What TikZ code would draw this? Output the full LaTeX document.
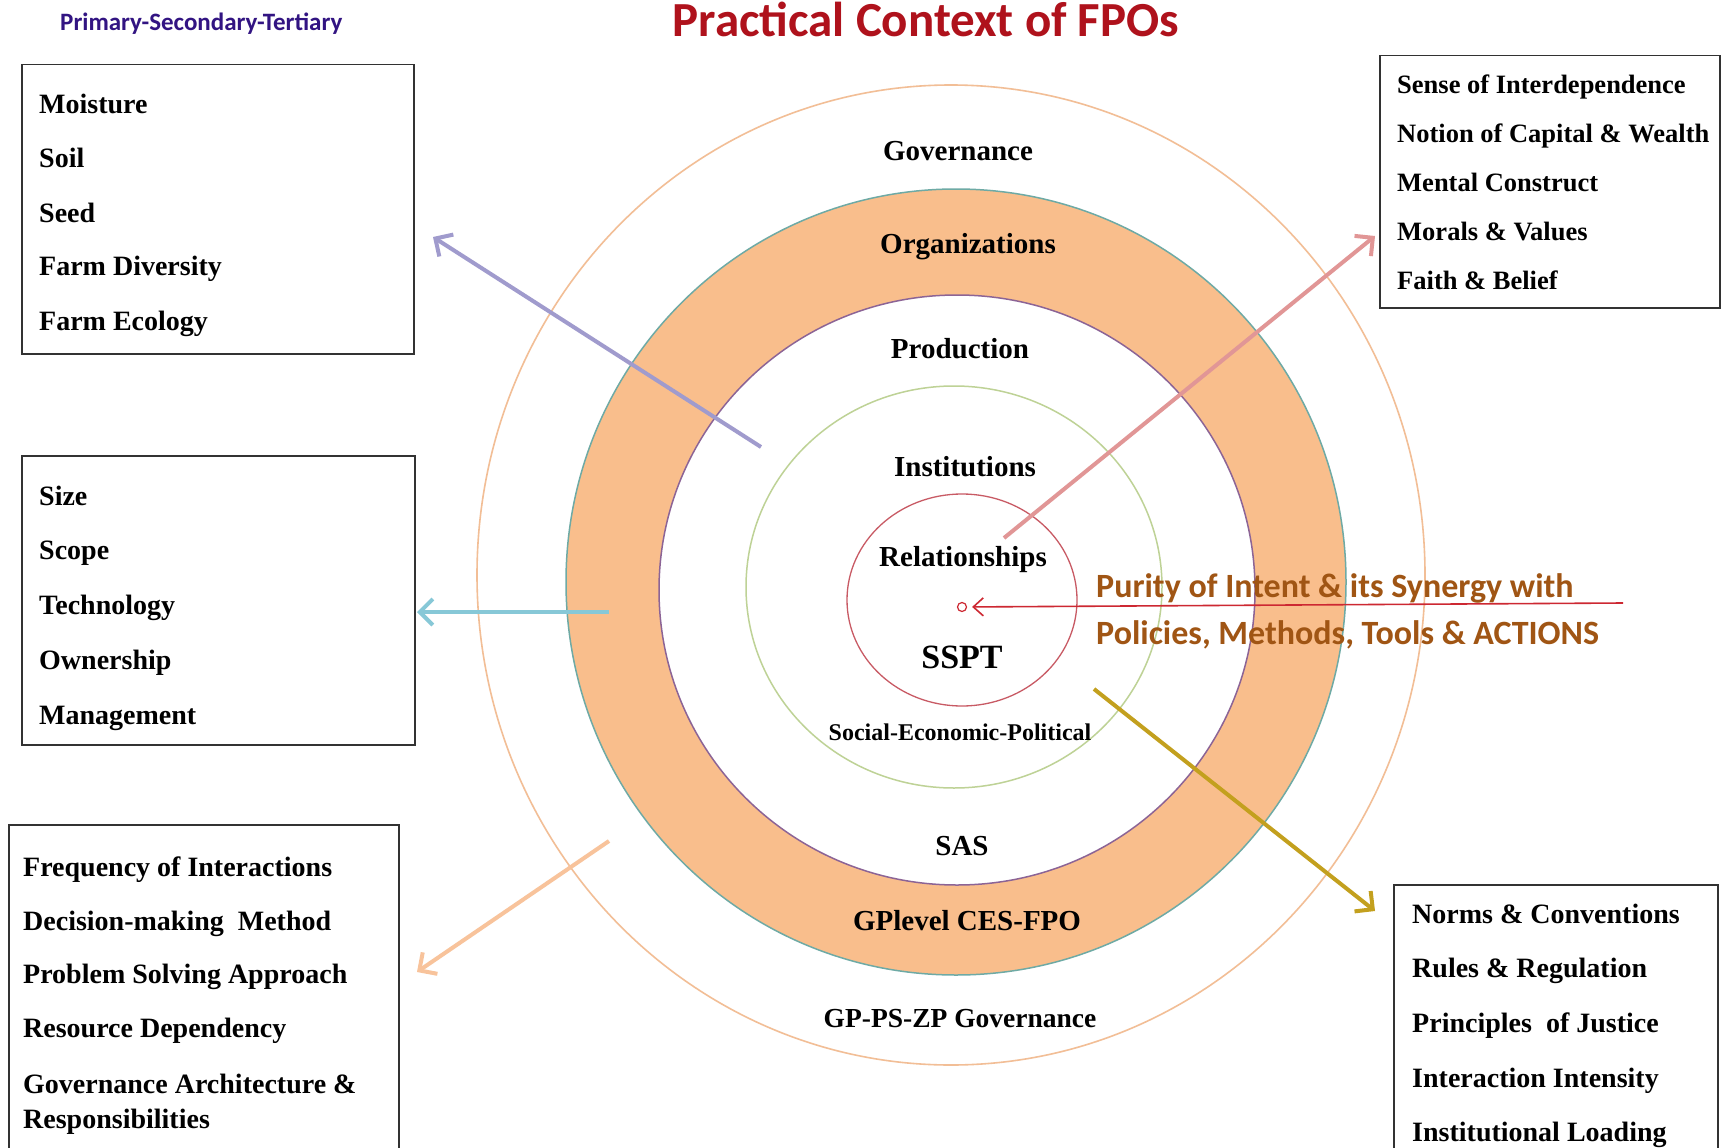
\documentclass[tikz,border=0pt]{standalone}
\usepackage{fontspec}
\setmainfont{Liberation Serif}
\newfontfamily\calibri{Carlito}
\usetikzlibrary{arrows.meta}
\definecolor{outerc}{RGB}{242,190,150}
\definecolor{ringfill}{RGB}{249,190,140}
\definecolor{ringout}{RGB}{110,170,165}
\definecolor{ringin}{RGB}{140,100,150}
\definecolor{instc}{RGB}{190,210,150}
\definecolor{relc}{RGB}{200,90,100}
\definecolor{purparr}{RGB}{160,155,205}
\definecolor{tealarr}{RGB}{135,200,215}
\definecolor{peacharr}{RGB}{248,195,155}
\definecolor{pinkarr}{RGB}{225,150,150}
\definecolor{goldarr}{RGB}{195,160,30}
\definecolor{redarr}{RGB}{205,40,50}
\definecolor{puritytxt}{RGB}{160,85,20}
\definecolor{titlered}{RGB}{175,18,28}
\definecolor{primblue}{RGB}{50,20,130}
\definecolor{boxgray}{RGB}{50,50,50}
\begin{document}
\begin{tikzpicture}[x=1pt,y=-1pt,
  lbl/.style={anchor=base, inner sep=0, font=\bfseries\fontsize{29}{34}\selectfont},
  item/.style={anchor=base west, inner sep=0, font=\bfseries\fontsize{28}{32}\selectfont},
  itemr/.style={anchor=base west, inner sep=0, font=\bfseries\fontsize{26.5}{30}\selectfont},
  boxnode/.style={draw=boxgray, line width=1.5, anchor=north west, inner sep=0},
  arr/.style={line width=4, -{Straight Barb[length=13,width=26]}},
  purtxt/.style={anchor=base west, inner sep=0, text=puritytxt, font=\calibri\bfseries\fontsize{34}{38}\selectfont}]
\useasboundingbox (0,0) rectangle (1721,1148);
\fill[white] (0,0) rectangle (1721,1148);

% concentric rings
\coordinate (co) at (951,575);
\coordinate (cr) at (956,582);
\coordinate (ci) at (957,590);
\coordinate (cn) at (954,587);
\coordinate (cl) at (962,600);
\draw[outerc, line width=1.6] (co) ellipse [x radius=474, y radius=490];
\draw[ringout, line width=1.5, fill=ringfill] (cr) ellipse [x radius=390, y radius=393];
\draw[ringin, line width=1.5, fill=white] (ci) ellipse [x radius=298, y radius=295];
\draw[instc, line width=1.5] (cn) ellipse [x radius=208, y radius=201];
\draw[relc, line width=1.3] (cl) ellipse [x radius=115, y radius=106];

% boxes
\node[boxnode, minimum width=392, minimum height=289] (box1) at (21,64) {};
\node[boxnode, minimum width=393, minimum height=289] (box2) at (21,455) {};
\node[boxnode, minimum width=390, minimum height=330] (box3) at (8,824) {};
\node[boxnode, minimum width=340, minimum height=252] (box4) at (1379,55) {};
\node[boxnode, minimum width=324, minimum height=270] (box5) at (1393,884) {};

% box texts
\node[item] (t11) at (39,113) {Moisture};
\node[item] (t12) at (39,167) {Soil};
\node[item] (t13) at (39,222) {Seed};
\node[item] (t14) at (39,275) {Farm Diversity};
\node[item] (t15) at (39,330) {Farm Ecology};

\node[item] (t21) at (39,505) {Size};
\node[item] (t22) at (39,559) {Scope};
\node[item] (t23) at (39,614) {Technology};
\node[item] (t24) at (39,669) {Ownership};
\node[item] (t25) at (39,724) {Management};

\node[item] (t31) at (23,876) {Frequency of Interactions};
\node[item] (t32) at (23,930) {Decision-making\ \ Method};
\node[item] (t33) at (23,983) {Problem Solving Approach};
\node[item] (t34) at (23,1037) {Resource Dependency};
\node[item] (t35) at (23,1093) {Governance Architecture \&};
\node[item] (t36) at (23,1128) {Responsibilities};

\node[itemr] (t41) at (1397,93) {Sense of Interdependence};
\node[itemr] (t42) at (1397,142) {Notion of Capital \& Wealth};
\node[itemr] (t43) at (1397,191) {Mental Construct};
\node[itemr] (t44) at (1397,240) {Morals \& Values};
\node[itemr] (t45) at (1397,289) {Faith \& Belief};

\node[item] (t51) at (1412,923) {Norms \& Conventions};
\node[item] (t52) at (1412,977) {Rules \& Regulation};
\node[item] (t53) at (1412,1032) {Principles\ \ of Justice};
\node[item] (t54) at (1412,1087) {Interaction Intensity};
\node[item] (t55) at (1412,1141) {Institutional Loading};

% arrows
\coordinate (pa1) at (761,447);  \coordinate (pa2) at (433,237);
\coordinate (ta1) at (609,612);  \coordinate (ta2) at (417,612);
\coordinate (fa1) at (609,841);  \coordinate (fa2) at (417,972);
\coordinate (ka1) at (1004,538); \coordinate (ka2) at (1375,236);
\coordinate (ga1) at (1094,689); \coordinate (ga2) at (1375,911);
\draw[arr, purparr] (pa1) -- (pa2);
\draw[arr, tealarr] (ta1) -- (ta2);
\draw[arr, peacharr] (fa1) -- (fa2);
\draw[arr, pinkarr] (ka1) -- (ka2);
\draw[arr, goldarr] (ga1) -- (ga2);

% centre dot and red arrow
\node[circle, draw=redarr, line width=1.2, inner sep=0, minimum size=9] (dot) at (962,607) {};
\coordinate (rs) at (1623,603);
\draw[redarr, line width=1.6, -{Straight Barb[length=10,width=18]}, shorten >=5] (rs) -- (dot);

% ring labels
\node[lbl] (gov) at (958,160) {Governance};
\node[lbl] (org) at (968,253) {Organizations};
\node[lbl] (prod) at (960,358) {Production};
\node[lbl] (inst) at (965,476) {Institutions};
\node[lbl] (rel) at (963,566) {Relationships};
\node[lbl, font=\bfseries\fontsize{34}{40}\selectfont] (sspt) at (962,668) {SSPT};
\node[lbl, font=\bfseries\fontsize{24}{28}\selectfont] (sep) at (960,740) {Social-Economic-Political};
\node[lbl] (sas) at (962,855) {SAS};
\node[lbl] (gpl) at (967,930) {GPlevel CES-FPO};
\node[lbl, font=\bfseries\fontsize{27.5}{32}\selectfont] (gpps) at (960,1027) {GP-PS-ZP Governance};

% purity text
\node[purtxt] (pur1) at (1096,597) {Purity of Intent \& its Synergy with};
\node[purtxt] (pur2) at (1096,644) {Policies, Methods, Tools \& ACTIONS};

% titles
\node[anchor=base, inner sep=0, text=titlered, font=\calibri\bfseries\fontsize{49}{58}\selectfont] (title) at (926,37) {Practical Context of FPOs};
\node[anchor=base west, inner sep=0, text=primblue, font=\calibri\bfseries\fontsize{25}{28}\selectfont] (prim) at (60,31) {Primary-Secondary-Tertiary};
\end{tikzpicture}
\end{document}
